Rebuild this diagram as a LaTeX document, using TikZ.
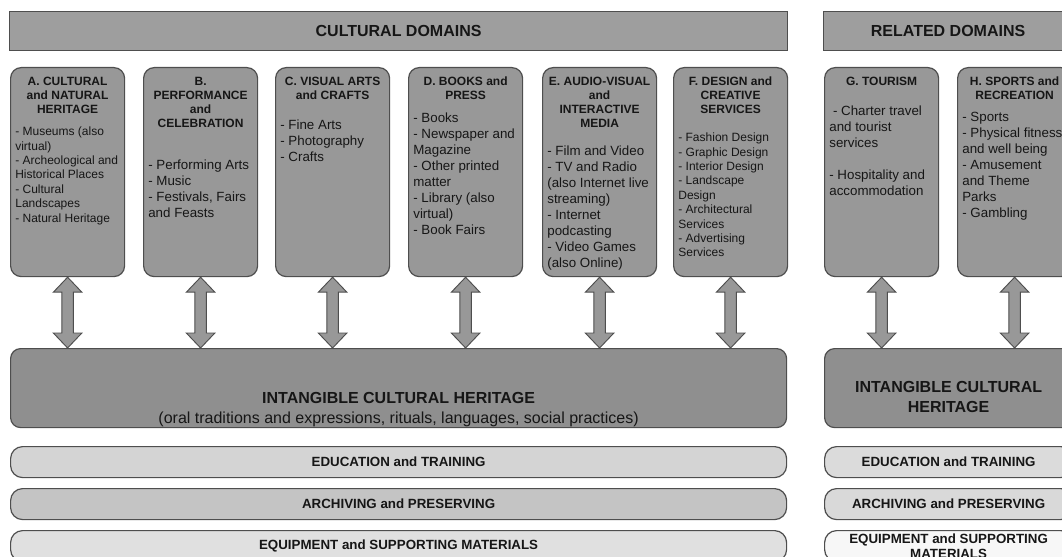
\documentclass[tikz,border=0pt]{standalone}
\usepackage{fontspec}
\setmainfont{Liberation Sans}
\usetikzlibrary{positioning,calc}
\definecolor{rim}{RGB}{78,78,78}
\definecolor{stone}{RGB}{152,152,152}
\definecolor{slab}{RGB}{158,158,158}
\definecolor{deep}{RGB}{143,143,143}
\definecolor{ink}{RGB}{22,22,22}
\tikzset{
  header/.style={draw=rim,fill=slab,line width=0.9pt,anchor=north west,minimum height=29.25pt,
    inner sep=0pt,text=ink,font=\fontsize{12}{14}\selectfont\bfseries},
  dombox/.style={draw=rim,fill=stone,line width=0.9pt,rounded corners=8pt,anchor=north west,
    minimum width=85.5pt,minimum height=156.75pt,inner sep=0pt},
  domtitle/.style={anchor=north,inner sep=0pt,align=center,text=ink,
    font=\fontsize{9}{10.5}\selectfont\bfseries},
  list9/.style={anchor=north west,inner sep=0pt,align=left,text=ink,
    font=\fontsize{9}{10.8}\selectfont},
  list10/.style={anchor=north west,inner sep=0pt,align=left,text=ink,
    font=\fontsize{10}{12}\selectfont},
  twoway/.style={draw=rim,fill=stone,line width=0.7pt,line join=miter},
  heritage/.style={draw=rim,fill=deep,line width=0.9pt,rounded corners=7.5pt,anchor=north west,
    minimum height=59.25pt,inner sep=0pt},
  herit label/.style={align=center,text=ink,inner sep=0pt,font=\fontsize{12}{15.5}\selectfont},
  band/.style={draw=rim,fill=#1,line width=0.9pt,rounded corners=9pt,anchor=north west,
    minimum height=23.25pt,inner sep=0pt,align=center,text=ink,
    font=\fontsize{10}{11.5}\selectfont\bfseries},
  band/.default=stone,
}
\newcommand{\comma}{,}

\begin{document}
\begin{tikzpicture}[x=0.75pt,y=-0.75pt]
  \useasboundingbox (0,0) rectangle (1062,556);
  \clip (0,0) rectangle (1062,556);
  \node[header,minimum width=583.5pt] (cult) at (9,11) {CULTURAL DOMAINS};
  \node[header,minimum width=186.75pt] (rel) at (823,11) {RELATED DOMAINS};
  \node[heritage,minimum width=582pt] (ich) at (10,348) {};
  \node[heritage,minimum width=186pt] (rich) at (824,348) {};
  \node[herit label] (icht) at ([yshift=-16pt]ich.center)
    {\textbf{INTANGIBLE CULTURAL HERITAGE}\\(oral traditions and expressions\comma{} rituals\comma{} languages\comma{} social practices)};
  \node[herit label,font=\fontsize{12}{14.5}\selectfont\bfseries] (richt) at ([yshift=-6.75pt]rich.center)
    {INTANGIBLE CULTURAL\\HERITAGE};
  \foreach \lx/\nm/\tgt/\sz/\dy/\head/\body in {
    10/A/ich/list9/44.8pt/{A. CULTURAL\\and NATURAL\\HERITAGE}/{- Museums (also\\virtual)\\- Archeological and\\Historical Places\\- Cultural\\Landscapes\\- Natural Heritage},
    143/B/ich/list10/69.2pt/{B.\\PERFORMANCE\\and\\CELEBRATION}/{- Performing Arts\\- Music\\- Festivals\comma{} Fairs\\and Feasts},
    275/C/ich/list10/39.8pt/{C. VISUAL ARTS\\and CRAFTS}/{- Fine Arts\\- Photography\\- Crafts},
    408/D/ich/list10/34pt/{D. BOOKS and\\PRESS}/{- Books\\- Newspaper and\\Magazine\\- Other printed\\matter\\- Library (also\\virtual)\\- Book Fairs},
    542/E/ich/list10/59.3pt/{E. AUDIO-VISUAL\\and\\INTERACTIVE\\MEDIA}/{- Film and Video\\- TV and Radio\\(also Internet live\\streaming)\\- Internet\\podcasting\\- Video Games\\(also Online)},
    673/F/ich/list9/49.3pt/{F. DESIGN and\\CREATIVE\\SERVICES}/{- Fashion Design\\- Graphic Design\\- Interior Design\\- Landscape\\Design\\- Architectural\\Services\\- Advertising\\Services},
    824/G/rich/list10/29pt/{G. TOURISM}/{\ - Charter travel\\and tourist\\services\\[12pt]- Hospitality and\\accommodation},
    957/H/rich/list10/34pt/{H. SPORTS and\\RECREATION}/{- Sports\\- Physical fitness\\and well being\\- Amusement\\and Theme\\Parks\\- Gambling}}
  {
    \node[dombox] (\nm) at (\lx,67) {};
    \node[domtitle] (t\nm) at ([yshift=-7.3pt]\nm.north) {\head};
    \node[\sz] (l\nm) at ([xshift=3.8pt,yshift=-\dy]\nm.north west) {\body};
    \coordinate (top\nm) at (\nm.south);
    \coordinate (bot\nm) at (\nm.south |- \tgt.north);
    \draw[twoway] let \p1=(top\nm), \p2=(bot\nm) in
      (\p1) -- (\x1+10.7pt,\y1-11.25pt) -- (\x1+4.3pt,\y1-11.25pt) -- (\x2+4.3pt,\y2+11.25pt)
      -- (\x2+10.7pt,\y2+11.25pt) -- (\p2) -- (\x2-10.7pt,\y2+11.25pt) -- (\x2-4.3pt,\y2+11.25pt)
      -- (\x1-4.3pt,\y1-11.25pt) -- (\x1-10.7pt,\y1-11.25pt) -- cycle;
  }
  \node[band=black!17,minimum width=582pt] (edu) at (10,446) {EDUCATION and TRAINING};
  \node[band=black!23,minimum width=582pt] (arch) at (10,488) {ARCHIVING and PRESERVING};
  \node[band=black!12,minimum width=582pt] (equip) at (10,530) {EQUIPMENT and SUPPORTING MATERIALS};
  \node[band=black!14,minimum width=186pt] (redu) at (824,446) {EDUCATION and TRAINING};
  \node[band=black!15,minimum width=186pt] (rarch) at (824,488) {ARCHIVING and PRESERVING};
  \node[band=black!3,minimum width=186pt] (requip) at (824,530) {EQUIPMENT and SUPPORTING\\MATERIALS};
\end{tikzpicture}
\end{document}
